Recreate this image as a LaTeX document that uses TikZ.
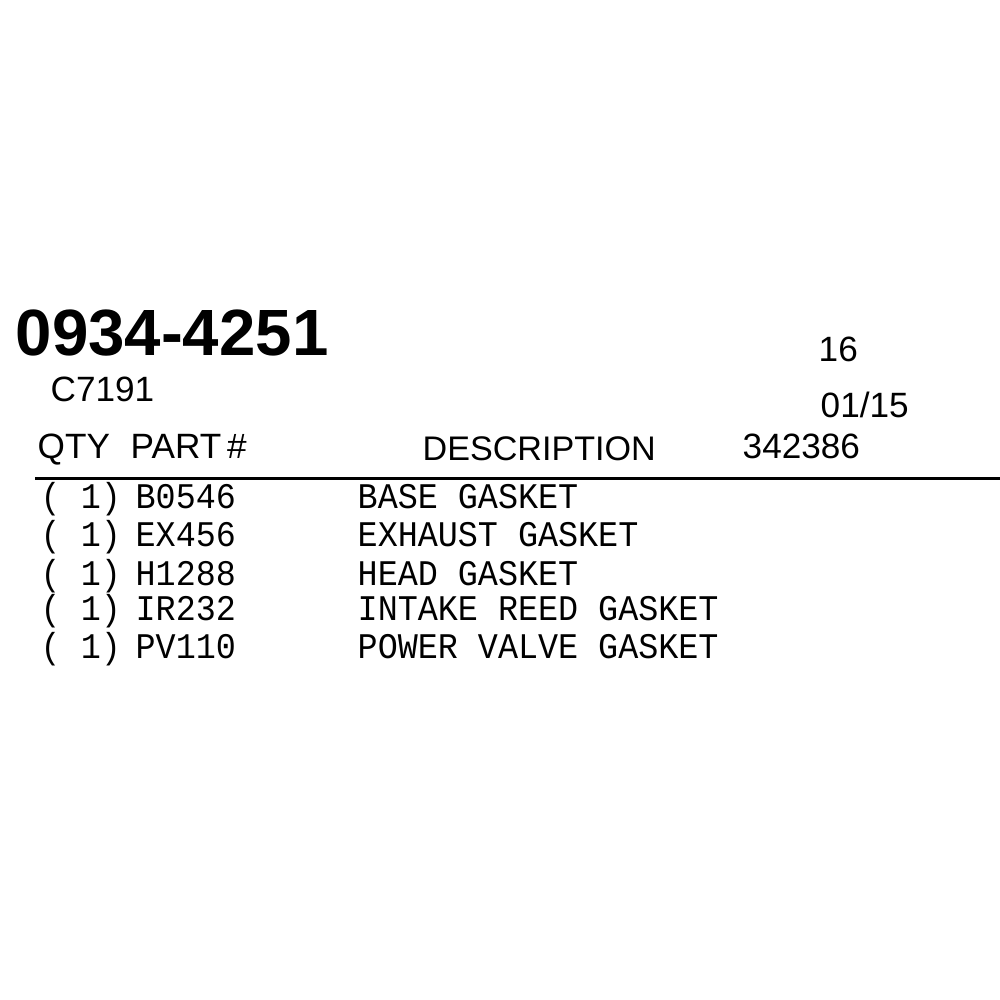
\documentclass[tikz,border=0pt]{standalone}
\usepackage{fontspec}
\setmainfont{Liberation Sans}
\setmonofont{Liberation Mono}
\begin{document}
\begin{tikzpicture}[x=0.01cm,y=-0.01cm,
  hd/.style={anchor=base west,inner sep=0pt,font=\fontsize{10pt}{12pt}\selectfont},
  row/.style={anchor=base west,inner sep=0pt,font=\ttfamily\fontsize{9.5pt}{12pt}\selectfont,yscale=1.08}]
\useasboundingbox (0,0) rectangle (1000,1000);
\node[anchor=base west,inner sep=0pt,font=\bfseries\fontsize{18.6pt}{20pt}\selectfont] (num) at (15,355) {0934-4251};
\node[hd] (c) at (50,401) {C7191};
\node[hd] (n16) at (818,361) {16};
\node[hd] (dt) at (820,417) {01/15};
\node[hd] (q) at (37,458) {QTY};
\node[hd] (p) at (130,458) {PART\,\#};
\node[hd,font=\fontsize{9.7pt}{12pt}\selectfont] (d) at (422,460) {DESCRIPTION};
\node[hd] (s) at (742,458) {342386};
\draw[line width=0.03cm] (35,478) -- (1000,478);
\foreach \y/\p/\t [count=\i] in {508/B0546/BASE GASKET,546/EX456/EXHAUST GASKET,585/H1288/HEAD GASKET,620/IR232/INTAKE REED GASKET,658/PV110/POWER VALVE GASKET}{
  \node[row] (q\i) at (40,\y) {( 1)};
  \node[row] (p\i) at (135,\y) {\p};
  \node[row] (t\i) at (357,\y) {\t};
}
\end{tikzpicture}
\end{document}
